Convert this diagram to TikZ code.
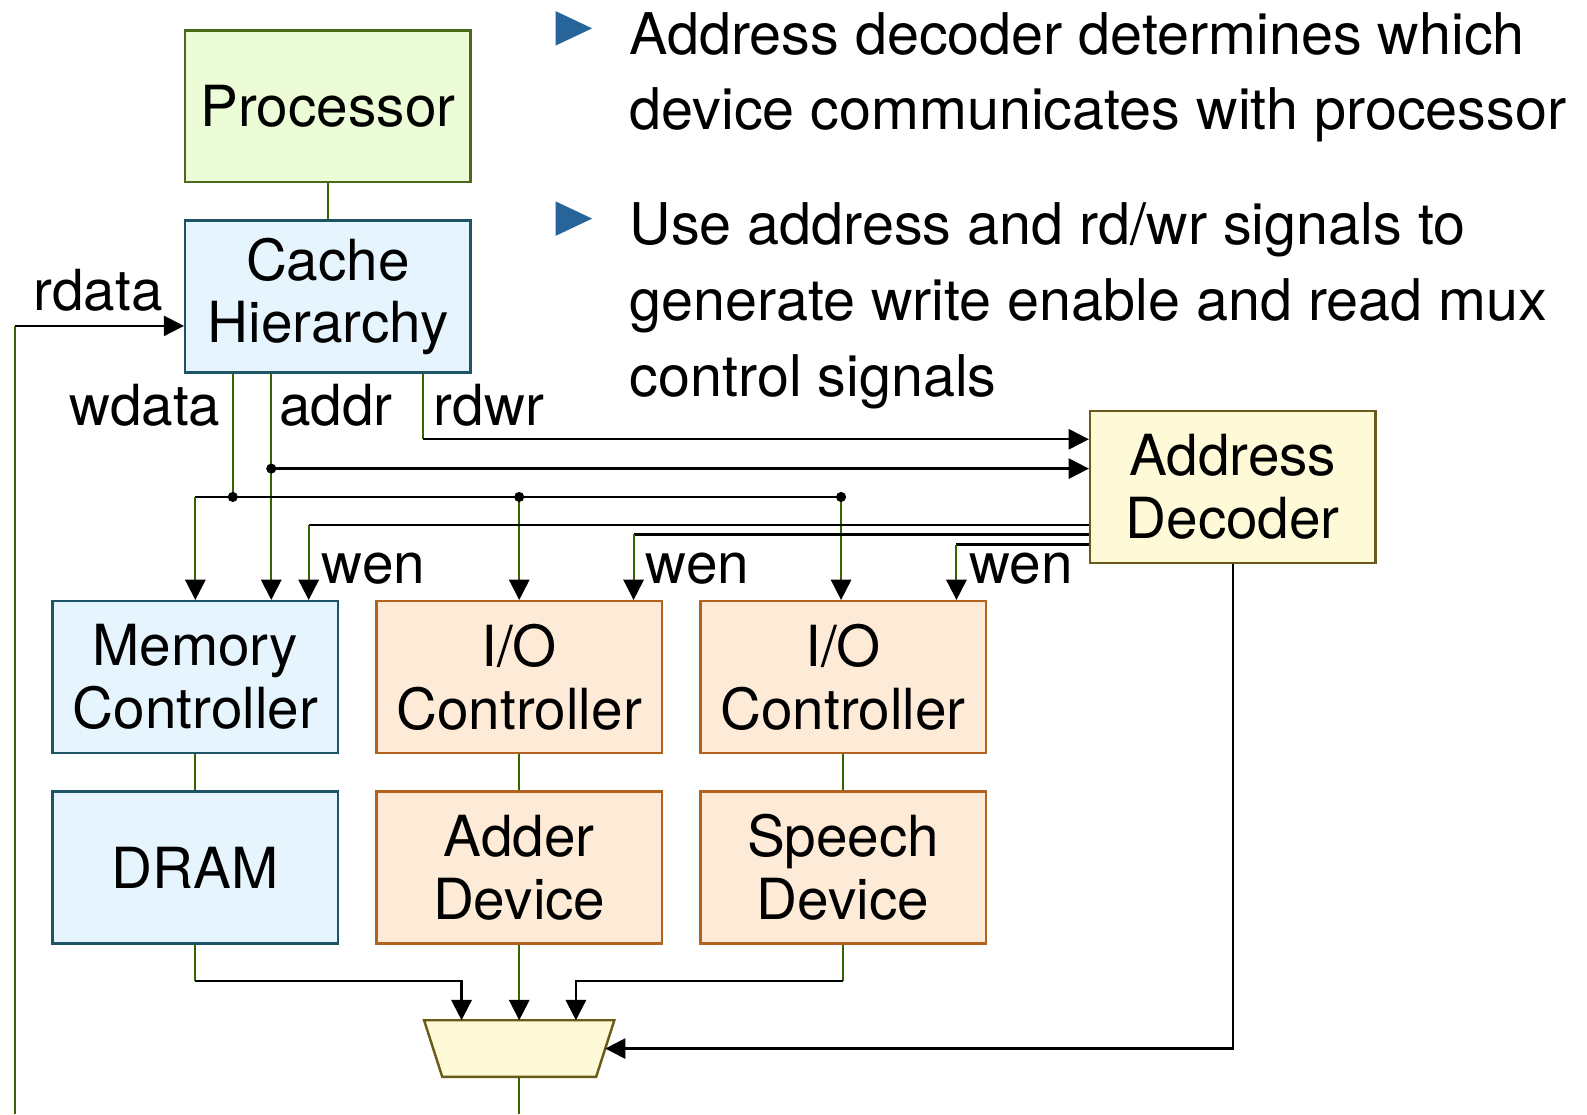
\documentclass[tikz,border=0pt]{standalone}
\usepackage{fontspec}
\setmainfont{TeX Gyre Heros}
\usetikzlibrary{arrows.meta}

\definecolor{procfill}{RGB}{235,252,214}
\definecolor{procline}{RGB}{76,106,26}
\definecolor{memfill}{RGB}{230,244,253}
\definecolor{memline}{RGB}{30,85,102}
\definecolor{iofill}{RGB}{253,235,215}
\definecolor{ioline}{RGB}{176,100,32}
\definecolor{decfill}{RGB}{254,249,215}
\definecolor{decline}{RGB}{106,90,26}
\definecolor{wiregreen}{RGB}{51,102,0}
\definecolor{bulletblue}{RGB}{38,100,154}

\tikzset{every picture/.style={line width=1pt}}
\tikzset{
	box/.style={draw, line width=1.2pt, minimum width=141pt, minimum height=75pt, inner sep=0pt, align=center, font=\fontsize{28}{31}\selectfont},
	procbox/.style={box, draw=procline, fill=procfill},
	membox/.style={box, draw=memline, fill=memfill},
	iobox/.style={box, draw=ioline, fill=iofill},
	decbox/.style={box, draw=decline, fill=decfill},
	muxshape/.style={draw=decline, fill=decfill, line width=1.2pt},
	wire/.style={draw=wiregreen, line width=1pt},
	sig/.style={draw=black, line width=1.1pt},
	tip/.style={-{Triangle[length=10pt,width=10pt,color=black]}},
	lbl/.style={inner sep=0pt, font=\fontsize{28}{31}\selectfont},
	bullettext/.style={anchor=north west, align=left, inner sep=0pt, font=\fontsize{28.4}{37.5}\selectfont},
	jdot/.style={circle, fill=black, inner sep=0pt, minimum size=5pt}}

\begin{document}
\begin{tikzpicture}[x=0.5pt,y=0.5pt,yscale=-1,xscale=1]
	\useasboundingbox (0,0) rectangle (1568,1101);

	%Shape: Rectangle
	\node[procbox] (proc) at (324,105) {Processor};
	%Shape: Rectangle
	\node[membox] (cache) at (324,293) {Cache\\Hierarchy};
	%Shape: Rectangle
	\node[decbox] (dec) at (1218,481) {Address\\Decoder};
	%Shape: Rectangle
	\node[membox] (memctrl) at (193,669) {Memory\\Controller};
	%Shape: Rectangle
	\node[iobox] (ioa) at (513,669) {I/O\\Controller};
	%Shape: Rectangle
	\node[iobox] (iob) at (833,669) {I/O\\Controller};
	%Shape: Rectangle
	\node[membox] (dram) at (193,857) {DRAM};
	%Shape: Rectangle
	\node[iobox] (adder) at (513,857) {Adder\\Device};
	%Shape: Rectangle
	\node[iobox] (speech) at (833,857) {Speech\\Device};
	%Shape: Trapezoid
	\draw[muxshape] (419,1008) -- (607,1008) -- (589,1064) -- (437,1064) -- cycle;
	\coordinate (muxn) at (513,1008);
	\coordinate (muxe) at (598,1036);
	\coordinate (muxs) at (513,1064);

	%Shape: Triangle
	\fill[bulletblue] (549,11) -- (585,28) -- (549,45) -- cycle;
	%Shape: Triangle
	\fill[bulletblue] (549,199) -- (585,216) -- (549,233) -- cycle;

	% bend points
	\coordinate (rdwr) at (418,434);
	\coordinate (addr) at (268,463);
	\coordinate (wdata) at (230,491);
	\coordinate (busl) at (193,491);
	\coordinate (busa) at (513,491);
	\coordinate (busb) at (831,491);
	\coordinate (wena) at (305,519);
	\coordinate (wenb) at (626,528);
	\coordinate (wenc) at (945,538);
	\coordinate (rdbend) at (15,322);
	\coordinate (rdsrc) at (15,1101);
	\coordinate (dm) at (456,969);
	\coordinate (sm) at (569,969);
	\coordinate (muxout) at (513,1101);

	% processor and cache
	\draw[wire] (proc) -- (cache);
	% rdata
	\draw[wire] (rdsrc) -- (rdbend);
	\draw[sig,tip] (rdbend) -- (rdbend -| cache.west);
	% rdwr
	\draw[wire] (cache.south -| rdwr) -- (rdwr);
	\draw[sig,tip] (rdwr) -- (rdwr -| dec.west);
	% addr
	\draw[wire,tip] (cache.south -| addr) -- (addr |- memctrl.north);
	\draw[sig,tip] (addr) -- (addr -| dec.west);
	% wdata
	\draw[wire] (cache.south -| wdata) -- (wdata);
	\draw[sig] (busl) -- (busb);
	\draw[wire,tip] (busl) -- (busl |- memctrl.north);
	\draw[wire,tip] (busa) -- (busa |- ioa.north);
	\draw[wire,tip] (busb) -- (busb |- iob.north);
	\node[jdot] (dota) at (addr) {};
	\node[jdot] (dotb) at (wdata) {};
	\node[jdot] (dotc) at (busa) {};
	\node[jdot] (dotd) at (busb) {};
	% wen
	\draw[sig] (wena -| dec.west) -- (wena);
	\draw[wire,tip] (wena) -- (wena |- memctrl.north);
	\draw[sig] (wenb -| dec.west) -- (wenb);
	\draw[wire,tip] (wenb) -- (wenb |- ioa.north);
	\draw[sig] (wenc -| dec.west) -- (wenc);
	\draw[wire,tip] (wenc) -- (wenc |- iob.north);
	% controllers and devices
	\draw[wire] (memctrl) -- (dram);
	\draw[wire] (ioa) -- (adder);
	\draw[wire] (iob) -- (speech);
	% devices to mux
	\draw[wire] (dram.south) -- (dram.south |- dm);
	\draw[sig,tip] (dram.south |- dm) -- (dm) -- (dm |- muxn);
	\draw[wire,tip] (adder.south) -- (muxn);
	\draw[wire] (speech.south) -- (speech.south |- sm);
	\draw[sig,tip] (speech.south |- sm) -- (sm) -- (sm |- muxn);
	\draw[sig,tip] (dec.south) -- (dec.south |- muxe) -- (muxe);
	\draw[wire] (muxs) -- (muxout);

	% Text Node
	\node[lbl] (lrdata) at (97,287) {rdata};
	% Text Node
	\node[lbl] (lwdata) at (143,400) {wdata};
	% Text Node
	\node[lbl] (laddr) at (332,400) {addr};
	% Text Node
	\node[lbl] (lrdwr) at (483,400) {rdwr};
	% Text Node
	\node[lbl] (lwena) at (369,562) {wen};
	% Text Node
	\node[lbl] (lwenb) at (689,562) {wen};
	% Text Node
	\node[lbl] (lwenc) at (1009,562) {wen};
	% Text Node
	\node[bullettext] (pointa) at (621,11) {Address decoder determines which\\device communicates with processor};
	% Text Node
	\node[bullettext] (pointb) at (621,199) {Use address and rd/wr signals to\\generate write enable and read mux\\control signals};

\end{tikzpicture}
\end{document}
